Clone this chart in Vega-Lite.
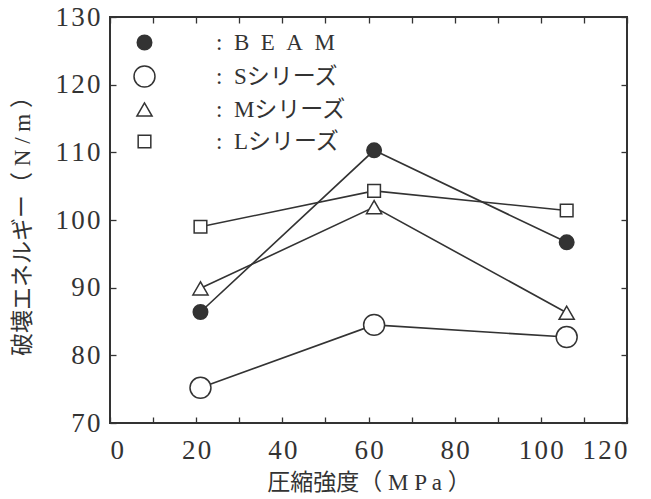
{
  "$schema": "https://vega.github.io/schema/vega-lite/v6.json",
  "width": 517,
  "height": 406,
  "autosize": "none",
  "padding": {"left": 110, "top": 17, "right": 24, "bottom": 76},
  "background": "white",
  "config": {
    "view": {"stroke": "#333", "strokeWidth": 2},
    "font": "Liberation Serif, Noto Sans CJK JP",
    "axis": {"domain": false, "grid": false, "tickColor": "#333", "tickWidth": 1.3, "tickSize": -6, "labelColor": "#333", "titleColor": "#333", "labelFont": "Liberation Serif", "labelFontSize": 27, "titleFont": "Liberation Serif, Noto Sans CJK JP", "titleFontSize": 23, "titleFontWeight": "normal"}
  },
  "data": {
    "values": [
      {"series": "BEAM", "x": 21, "y": 86.4},
      {"series": "BEAM", "x": 61.3, "y": 110.3},
      {"series": "BEAM", "x": 106, "y": 96.7},
      {"series": "Sシリーズ", "x": 21, "y": 75.2},
      {"series": "Sシリーズ", "x": 61.3, "y": 84.5},
      {"series": "Sシリーズ", "x": 106, "y": 82.7},
      {"series": "Mシリーズ", "x": 21, "y": 89.9},
      {"series": "Mシリーズ", "x": 61.3, "y": 101.9},
      {"series": "Mシリーズ", "x": 106, "y": 86.3},
      {"series": "Lシリーズ", "x": 21, "y": 99.0},
      {"series": "Lシリーズ", "x": 61.3, "y": 104.3},
      {"series": "Lシリーズ", "x": 106, "y": 101.4}
    ]
  },
  "layer": [
    {
      "mark": {"type": "line", "color": "#333", "strokeWidth": 1.6},
      "encoding": {
        "x": {"field": "x", "type": "quantitative", "scale": {"domain": [0, 120], "nice": false, "zero": false},
          "axis": {"orient": "bottom", "values": [0,10,20,30,40,50,60,70,80,90,100,110,120], "labelExpr": "datum.value % 20 === 0 ? replace(datum.label, regexp('(\\\\d)(?=\\\\d)', 'g'), '$1\u200a') : ''", "labelPadding": 20, "title": "圧縮強度（ M P a ）", "titlePadding": 8}},
        "y": {"field": "y", "type": "quantitative", "scale": {"domain": [70, 130], "nice": false, "zero": false},
          "axis": {"orient": "left", "values": [70,80,90,100,110,120,130], "labelExpr": "replace(datum.label, regexp('(\\\\d)(?=\\\\d)', 'g'), '$1\u200a')", "labelPadding": 16, "title": "破壊エネルギー（ N / m ）", "titlePadding": 20}},
        "detail": {"field": "series"}
      }
    },
    {
      "mark": {"type": "point", "filled": true, "stroke": "#333", "strokeWidth": 1.5, "opacity": 1},
      "encoding": {
        "x": {"field": "x", "type": "quantitative", "axis": {"orient": "top", "values": [0,10,20,30,40,50,60,70,80,90,100,110,120], "labels": false, "title": null}},
        "y": {"field": "y", "type": "quantitative", "axis": {"orient": "right", "values": [70,80,90,100,110,120,130], "labels": false, "title": null}},
        "shape": {"field": "series", "type": "nominal",
          "scale": {"domain": ["BEAM", "Sシリーズ", "Mシリーズ", "Lシリーズ"], "range": ["circle", "circle", "triangle-up", "square"]},
          "legend": {"orient": "none", "legendX": 23, "legendY": 14, "title": null, "padding": 0,
            "labelFont": "Liberation Serif, Noto Sans CJK JP", "labelFontSize": 23, "labelColor": "#333", "labelOffset": 60, "rowPadding": 8,
            "symbolStrokeWidth": 1.5, "symbolStrokeColor": "#333",
            "labelExpr": "datum.label === 'BEAM' ? ':\u2002B\u2002E\u2002A\u2002M' : ':\u2002' + datum.label"
          }},
        "fill": {"field": "series", "type": "nominal",
          "scale": {"domain": ["BEAM", "Sシリーズ", "Mシリーズ", "Lシリーズ"], "range": ["#333", "white", "white", "white"]}},
        "size": {"field": "series", "type": "nominal",
          "scale": {"type": "ordinal", "domain": ["BEAM", "Sシリーズ", "Mシリーズ", "Lシリーズ"], "range": [210, 440, 230, 160]}}
      }
    }
  ]
}
